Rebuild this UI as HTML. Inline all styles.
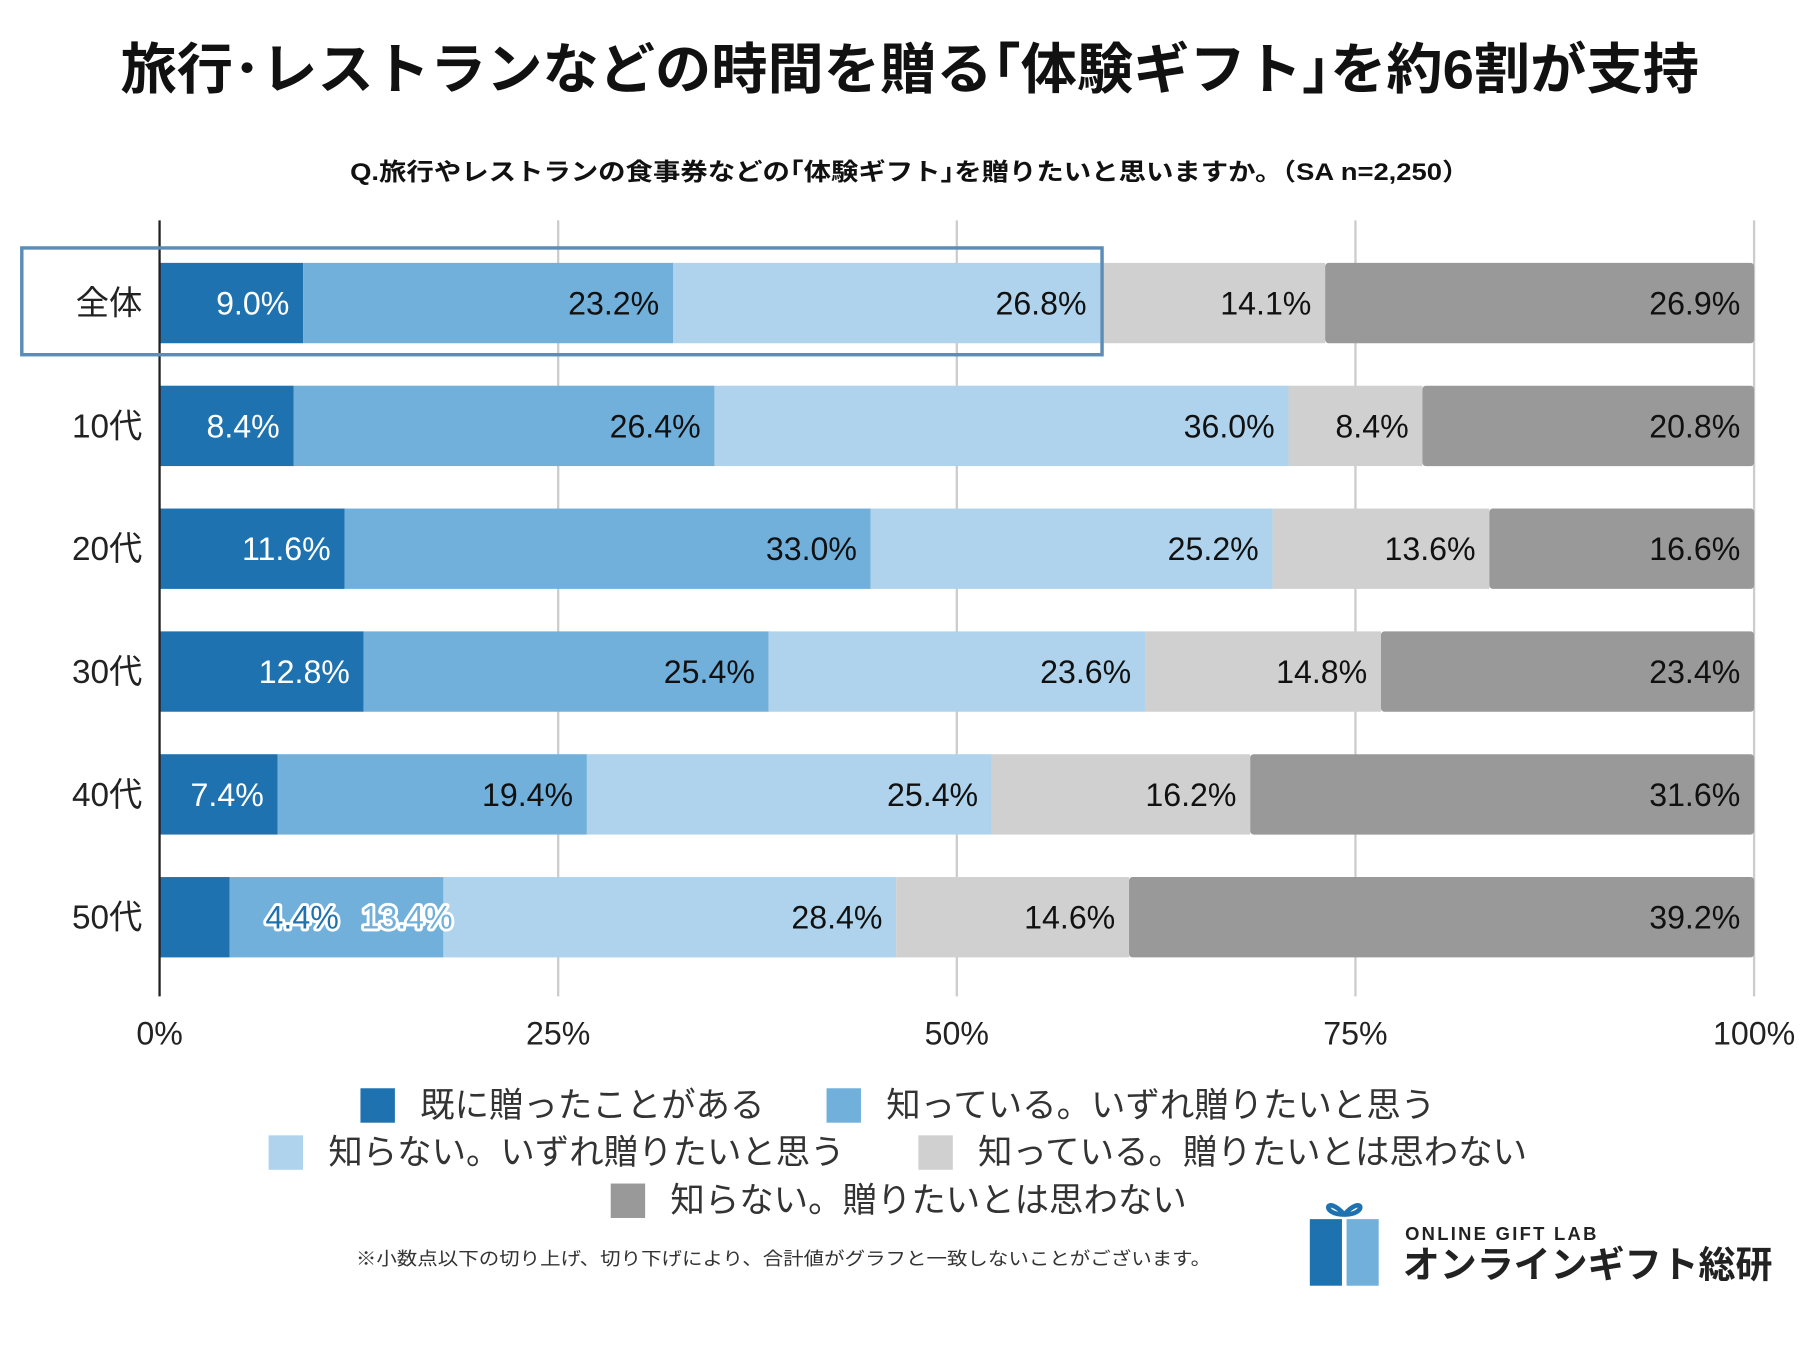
<!DOCTYPE html>
<html><head><meta charset="utf-8">
<style>
html,body{margin:0;padding:0;background:#fff;}
svg{display:block;font-family:"Liberation Sans","Noto Sans CJK JP",sans-serif;}
</style></head>
<body>
<svg id="chart" width="1800" height="1350" viewBox="0 0 1568 1176" xmlns="http://www.w3.org/2000/svg">
<rect width="1568" height="1176" fill="#fff"/>
<text x="105" y="77" textLength="1375" lengthAdjust="spacingAndGlyphs" font-size="48" font-weight="bold" fill="#111">旅行･レストランなどの時間を贈る｢体験ギフト｣を約6割が支持</text>
<text x="305" y="157" textLength="975" lengthAdjust="spacingAndGlyphs" font-size="21" font-weight="bold" fill="#111">Q.旅行やレストランの食事券などの｢体験ギフト｣を贈りたいと思いますか。（SA n=2,250）</text>
<g id="grid"></g>
<g id="bars"></g>
<g id="axis"></g>
<rect x="19" y="216" width="941" height="93" fill="none" stroke="#5b8db8" stroke-width="3"/>
<g id="legend" font-size="30" fill="#333"></g>
<text x="310" y="1102" textLength="745" lengthAdjust="spacingAndGlyphs" font-size="16" fill="#333">※小数点以下の切り上げ、切り下げにより、合計値がグラフと一致しないことがございます。</text>
<g>
<rect x="1141" y="1062" width="28" height="58" fill="#1f72b0"/>
<rect x="1173" y="1062" width="28" height="58" fill="#72b0dc"/>
<path d="M1171 1058 C1155 1040,1150 1058,1171 1058 C1192 1058,1187 1040,1171 1058" fill="none" stroke="#1f72b0" stroke-width="4"/>
<text x="1224" y="1080" font-size="16" font-weight="bold" fill="#222" letter-spacing="2">ONLINE GIFT LAB</text>
<text x="1222" y="1113" textLength="322" lengthAdjust="spacingAndGlyphs" font-size="32" font-weight="bold" fill="#222">オンラインギフト総研</text>
</g>
</svg>
<script>
const categories=["全体","10代","20代","30代","40代","50代"];
const s1=[9.0,8.4,11.6,12.8,7.4,4.4];
const s2=[23.2,26.4,33.0,25.4,19.4,13.4];
const s3=[26.8,36.0,25.2,23.6,25.4,28.4];
const s4=[14.1,8.4,13.6,14.8,16.2,14.6];
const s5=[26.9,20.8,16.6,23.4,31.6,39.2];
const seriesNames=["既に贈ったことがある","知っている。いずれ贈りたいと思う","知らない。いずれ贈りたいと思う","知っている。贈りたいとは思わない","知らない。贈りたいとは思わない"];
const ticks=[0,25,50,75,100];
const colors=["#1f72b0","#72b0dc","#afd3ec","#d0d0d0","#999999"];
const NS="http://www.w3.org/2000/svg";
const X0=139,X1=1528,Y0=229,STEP=107,BH=70;
const x=v=>X0+(X1-X0)*v/100;
const yc=i=>Y0+STEP*i+BH/2;
function mk(tag,attrs,parent,txt){const e=document.createElementNS(NS,tag);for(const k in attrs)e.setAttribute(k,attrs[k]);if(txt!==undefined)e.textContent=txt;parent.appendChild(e);return e;}
const grid=document.getElementById('grid'),bars=document.getElementById('bars'),axis=document.getElementById('axis'),legend=document.getElementById('legend');
ticks.forEach(t=>{
  if(t>0){const l=mk('line',{x1:x(t),x2:x(t),y1:192,y2:868,stroke:'#ccc','stroke-width':2},grid);
  
  }
  const tx=mk('text',{x:x(t),y:910,'text-anchor':'middle','font-size':28,fill:'#222'},axis,t+'%');
  
  
});
const ax=mk('line',{x1:X0,x2:X0,y1:192,y2:868,stroke:'#222','stroke-width':2},axis);


const all=[s1,s2,s3,s4,s5];
categories.forEach((c,i)=>{
  const lab=mk('text',{x:124,y:yc(i)+10,'text-anchor':'end','font-size':29,fill:'#222'},axis,c);
  
  
  let cum=0;
  const small=(s1[i]<6);
  all.forEach((s,k)=>{
    const v=s[i];const xa=x(cum),xb=x(cum+v);cum+=v;
    const r=mk('rect',{x:xa,y:yc(i)-BH/2,width:Math.max(0,xb-xa),height:BH,fill:colors[k],rx:k===4?3:0},bars);
    
    
  });
  cum=0;
  all.forEach((s,k)=>{
    const v=s[i];const xb=x(cum+v);cum+=v;
    let attrs={x:xb-12,y:yc(i)+10,'text-anchor':'end','font-size':28,fill:k===0?'#fff':'#111'};
    if(small&&k<2){
      attrs.fill=k===0?'#1f72b0':'#72b0dc';
      attrs.stroke='#fff';attrs['stroke-width']=5;attrs['paint-order']='stroke';attrs['stroke-linejoin']='round';
      if(k===0){attrs.x=xb+95;}
      else{attrs.x=xb+8;}
    }
    const t=mk('text',attrs,bars,v.toFixed(1)+'%');
    
    
  });
});
const lpos=[[314,962],[720,962],[234,1003],[800,1003],[532,1045]];
seriesNames.forEach((n,k)=>{
  const [lx,ly]=lpos[k];
  const sq=mk('rect',{x:lx,y:ly-14,width:30,height:30,fill:colors[k]},legend);
  
  
  const t=mk('text',{x:lx+52,y:ly+11},legend,n);
  
  
});
</script>
</body></html>
